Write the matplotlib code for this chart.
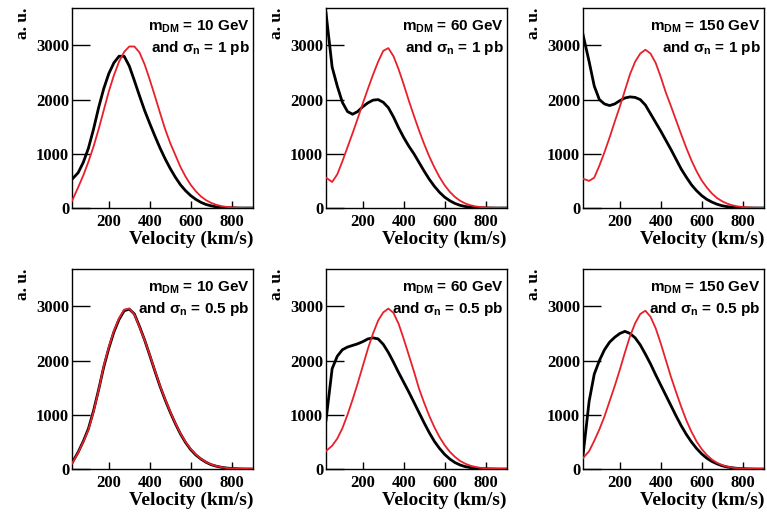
import matplotlib
matplotlib.use("Agg")
import matplotlib.pyplot as plt

plt.rcParams['mathtext.fontset'] = 'custom'
plt.rcParams['mathtext.rm'] = 'Liberation Sans:bold'
plt.rcParams['mathtext.it'] = 'Liberation Sans:bold'
plt.rcParams['mathtext.bf'] = 'Liberation Sans:bold'

# velocity grid (km/s)
velocity = [20, 50, 75, 100, 125, 150, 175, 200, 225, 250, 275, 300, 325, 350,
            375, 400, 425, 450, 475, 500, 525, 550, 575, 600, 625, 650, 675, 700,
            725, 750, 775, 800, 825, 850, 875, 900]

# top row: sigma_n = 1 pb
black_10_1 = [530, 650, 840, 1100, 1450, 1850, 2200, 2480, 2680, 2800, 2800, 2620,
              2350, 2070, 1800, 1560, 1330, 1110, 910, 730, 570, 430, 320, 230,
              160, 105, 65, 40, 22, 12, 6, 3, 1, 0, 0, 0]
red_10_1 = [130, 380, 600, 850, 1130, 1450, 1800, 2150, 2450, 2700, 2880, 2980,
            2980, 2870, 2650, 2370, 2070, 1760, 1460, 1200, 980, 760, 580, 430,
            310, 215, 145, 95, 60, 35, 20, 10, 5, 2, 0, 0]
black_60_1 = [3600, 2600, 2250, 1950, 1780, 1730, 1780, 1870, 1940, 1990, 2000, 1950,
              1850, 1680, 1480, 1300, 1140, 1000, 840, 680, 530, 400, 290, 200,
              135, 85, 50, 28, 15, 8, 4, 2, 1, 0, 0, 0]
red_60_1 = [560, 480, 620, 860, 1120, 1380, 1650, 1930, 2200, 2460, 2700, 2900,
            2950, 2800, 2560, 2280, 1980, 1700, 1430, 1180, 950, 750, 570, 420,
            300, 205, 135, 85, 52, 30, 17, 9, 4, 2, 1, 0]
black_150_1 = [3200, 2700, 2250, 2000, 1920, 1890, 1920, 1980, 2030, 2050, 2040, 2000,
               1900, 1740, 1580, 1420, 1250, 1080, 900, 720, 570, 430, 320, 230,
               160, 110, 70, 42, 25, 14, 7, 3, 1, 0, 0, 0]
red_150_1 = [540, 500, 560, 780, 1030, 1300, 1590, 1870, 2170, 2470, 2700, 2850,
             2920, 2850, 2680, 2420, 2130, 1880, 1620, 1360, 1110, 880, 680, 510,
             380, 270, 185, 125, 80, 50, 30, 17, 9, 4, 2, 1]

# bottom row: sigma_n = 0.5 pb
black_10_05 = [110, 310, 510, 740, 1070, 1460, 1880, 2230, 2530, 2760, 2920, 2950,
               2860, 2630, 2380, 2100, 1810, 1530, 1280, 1050, 840, 650, 490, 360,
               260, 185, 125, 80, 52, 32, 18, 10, 5, 2, 1, 0]
red_10_05 = [100, 300, 500, 720, 1050, 1450, 1900, 2250, 2550, 2780, 2940, 2960,
             2850, 2620, 2380, 2110, 1820, 1540, 1290, 1060, 850, 660, 500, 370,
             270, 190, 130, 85, 55, 34, 20, 11, 6, 3, 1, 0]
black_60_05 = [900, 1850, 2080, 2200, 2250, 2280, 2310, 2350, 2400, 2420, 2400, 2300,
               2150, 1970, 1780, 1600, 1420, 1230, 1040, 850, 670, 510, 380, 270,
               185, 120, 75, 45, 27, 15, 8, 4, 2, 1, 0, 0]
red_60_05 = [330, 430, 560, 750, 1000, 1280, 1580, 1900, 2220, 2500, 2740, 2890,
             2960, 2880, 2680, 2400, 2100, 1800, 1480, 1220, 980, 770, 590, 440,
             320, 225, 150, 100, 62, 38, 22, 12, 6, 3, 1, 0]
black_150_05 = [250, 1250, 1750, 2000, 2200, 2340, 2430, 2500, 2540, 2500, 2420, 2290,
                2120, 1940, 1740, 1550, 1360, 1170, 980, 800, 640, 500, 380, 280,
                200, 140, 95, 60, 37, 22, 12, 6, 3, 1, 0, 0]
red_150_05 = [200, 330, 520, 730, 970, 1250, 1530, 1830, 2150, 2450, 2690, 2860,
              2920, 2810, 2600, 2320, 2010, 1700, 1420, 1150, 900, 690, 510, 370,
              260, 175, 115, 72, 44, 26, 15, 8, 4, 2, 1, 0]

masses = ['10', '60', '150', '10', '60', '150']
sigmas = ['1', '1', '1', '0.5', '0.5', '0.5']
blacks = [black_10_1, black_60_1, black_150_1, black_10_05, black_60_05, black_150_05]
reds = [red_10_1, red_60_1, red_150_1, red_10_05, red_60_05, red_150_05]

fig = plt.figure(figsize=(7.67, 5.2), dpi=100)

lefts = [72 / 767, 326 / 767, 583 / 767]
bottoms = [1 - 208 / 520, 1 - 469 / 520]
w = 181 / 767
h = 200 / 520

serif = 'Liberation Serif'
sans = 'Liberation Sans'

for i in range(6):
    row, col = i // 3, i % 3
    ax = fig.add_axes([lefts[col], bottoms[row], w, h])
    ax.plot(velocity, blacks[i], color='black', lw=2.0, zorder=2)
    ax.plot(velocity, reds[i], color='#e8202a', lw=1.3, zorder=3)
    ax.set_xlim(20, 905)
    ax.set_ylim(0, 3690)
    ax.set_xticks([200, 400, 600, 800])
    ax.set_yticks([0, 1000, 2000, 3000])
    ax.tick_params(axis='y', direction='in', length=13, width=1, pad=2)
    ax.tick_params(axis='x', direction='in', length=5, width=1, pad=4)
    for lab in ax.get_xticklabels() + ax.get_yticklabels():
        lab.set_fontfamily(serif)
        lab.set_fontweight('bold')
        lab.set_fontsize(12)
    for s in ax.spines.values():
        s.set_linewidth(1.0)
    ax.set_xlabel('Velocity (km/s)', loc='right', fontfamily=serif,
                  fontweight='bold', fontsize=14, labelpad=1)
    ax.set_ylabel('a. u.', loc='top', fontfamily=serif,
                  fontweight='bold', fontsize=12.5, labelpad=4)
    ax.text(0.98, 0.945, r'm$_{\mathrm{DM}}$ = ' + masses[i] + ' GeV',
            transform=ax.transAxes, ha='right', va='top',
            fontfamily=sans, fontweight='bold', fontsize=11)
    ax.text(0.98, 0.845, r'and $\sigma_{n}$ = ' + sigmas[i] + ' pb',
            transform=ax.transAxes, ha='right', va='top',
            fontfamily=sans, fontweight='bold', fontsize=11)

fig.savefig('out.png', dpi=100)
